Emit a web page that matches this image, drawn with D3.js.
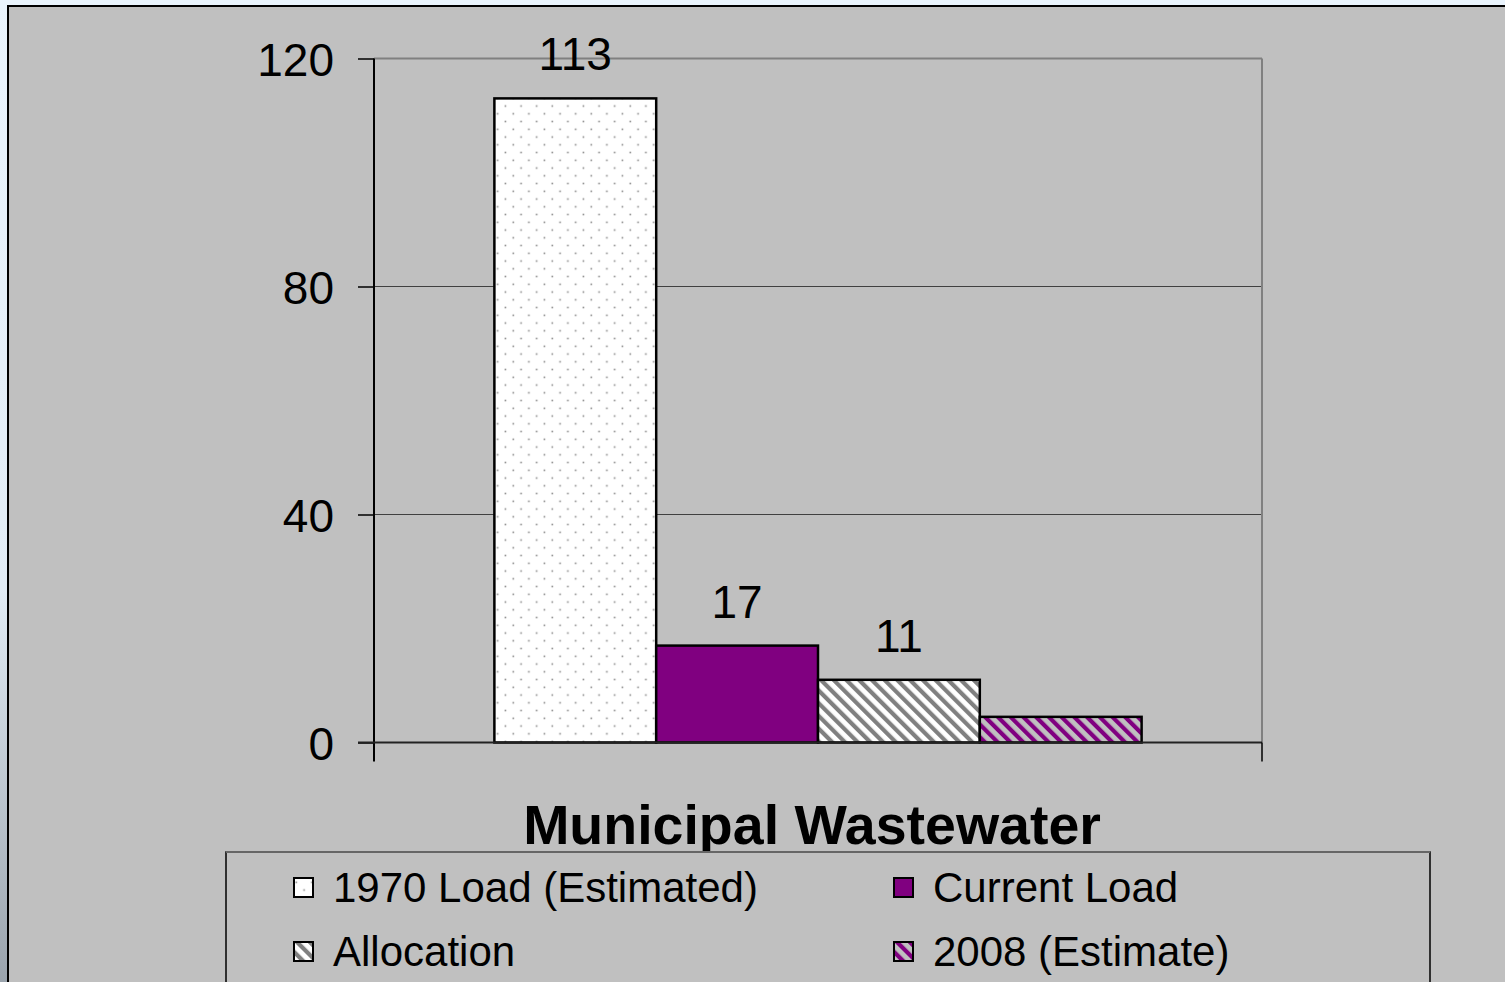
<!DOCTYPE html>
<html>
<head>
<meta charset="utf-8">
<script src="https://cdn.jsdelivr.net/npm/d3@7"></script>
<style>
  body { margin: 0; padding: 0; overflow: hidden; background: #eaf4fd; }
  svg { display: block; }
  text { font-family: "Liberation Sans", Arial, sans-serif; }
</style>
</head>
<body>
<div id="chart"></div>
<script>
// data
const categories = ["Municipal Wastewater"];
const series = ["1970 Load (Estimated)", "Current Load", "Allocation", "2008 (Estimate)"];
const values = [113, 17, 11, 4.5];
const labels = ["113", "17", "11", ""];
const yTicks = [0, 40, 80, 120];

const W = 1505, H = 982;
const plot = {left: 374, right: 1262, top: 58.5, bottom: 742.5};

const svg = d3.select("#chart").append("svg")
  .attr("width", W)
  .attr("height", H);

const defs = svg.append("defs");

// left photo strip
const grad = defs.append("linearGradient").attr("id", "strip")
  .attr("x1", 0).attr("y1", 0).attr("x2", 0).attr("y2", 1);
grad.append("stop").attr("offset", "0").attr("stop-color", "#eaf4fd");
grad.append("stop").attr("offset", "0.6").attr("stop-color", "#e2ecf5");
grad.append("stop").attr("offset", "1").attr("stop-color", "#9aa3ac");
svg.append("rect").attr("x", 0).attr("y", 0).attr("width", 8).attr("height", H)
  .attr("fill", "url(#strip)");

// patterns
const dots = defs.append("pattern").attr("id", "dots")
  .attr("patternUnits", "userSpaceOnUse")
  .attr("width", 15.6).attr("height", 15.5);
dots.append("rect").attr("width", 15.6).attr("height", 15.5).attr("fill", "#ffffff");
dots.append("rect").attr("x", 2.5).attr("y", 4.5).attr("width", 1.6).attr("height", 1.6).attr("fill", "#8a8a8a");
dots.append("rect").attr("x", 10.3).attr("y", 12.25).attr("width", 1.6).attr("height", 1.6).attr("fill", "#8a8a8a");

function stripes(id, bg, fg) {
  const p = defs.append("pattern").attr("id", id)
    .attr("patternUnits", "userSpaceOnUse")
    .attr("width", 9).attr("height", 9)
    .attr("patternTransform", "rotate(-45)");
  p.append("rect").attr("width", 9).attr("height", 9).attr("fill", bg);
  p.append("rect").attr("x", 0).attr("y", 0).attr("width", 4.2).attr("height", 9).attr("fill", fg);
}
stripes("hatchGray", "#ffffff", "#808080");
stripes("hatchPurple", "#c0c0c0", "#800080");

const fills = ["url(#dots)", "#800080", "url(#hatchGray)", "url(#hatchPurple)"];

// chart background
svg.append("rect")
  .attr("x", 8).attr("y", 6)
  .attr("width", W).attr("height", H)
  .attr("fill", "#c0c0c0")
  .attr("stroke", "#000").attr("stroke-width", 2);

const y = d3.scaleLinear().domain([0, 120]).range([plot.bottom, plot.top]);

const x0 = d3.scaleBand().domain(categories)
  .range([plot.left, plot.right])
  .paddingOuter(0.186).paddingInner(0);

const x1 = d3.scaleBand().domain(series)
  .range([0, x0.bandwidth()]);

// gridlines
svg.append("g")
  .selectAll("line")
  .data(yTicks.filter(d => d > 0))
  .enter().append("line")
  .attr("x1", plot.left).attr("x2", plot.right)
  .attr("y1", d => y(d)).attr("y2", d => y(d))
  .attr("stroke", d => d === 120 ? "#808080" : "#404040")
  .attr("stroke-width", d => d === 120 ? 2 : 1.2);

// right border
svg.append("line")
  .attr("x1", plot.right).attr("x2", plot.right)
  .attr("y1", plot.top).attr("y2", plot.bottom)
  .attr("stroke", "#808080").attr("stroke-width", 2);

// y axis
const yAxis = d3.axisLeft(y).tickValues(yTicks).tickSize(16).tickPadding(24);
const gy = svg.append("g")
  .attr("transform", "translate(" + plot.left + ",0)")
  .call(yAxis);
gy.select(".domain").remove();
gy.selectAll(".tick line").attr("stroke", "#000").attr("stroke-width", 1.5);
gy.selectAll(".tick text")
  .attr("font-size", 46)
  .attr("fill", "#000")
  .attr("dy", "0.36em")
  .style("font-family", "'Liberation Sans', Arial, sans-serif");
gy.append("line")
  .attr("x1", 0).attr("x2", 0)
  .attr("y1", plot.top).attr("y2", plot.bottom + 19)
  .attr("stroke", "#000").attr("stroke-width", 2);

// bars
const g = svg.append("g")
  .selectAll("g")
  .data(categories)
  .enter().append("g")
  .attr("transform", d => "translate(" + x0(d) + ",0)");

g.selectAll("rect")
  .data(series.map((s, i) => ({s: s, v: values[i], i: i})))
  .enter().append("rect")
  .attr("x", d => x1(d.s))
  .attr("y", d => y(d.v))
  .attr("width", x1.bandwidth())
  .attr("height", d => y(0) - y(d.v))
  .attr("fill", d => fills[d.i])
  .attr("stroke", "#000")
  .attr("stroke-width", 2.5);

g.selectAll("text.lab")
  .data(series.map((s, i) => ({s: s, v: values[i], i: i})))
  .enter().append("text")
  .attr("class", "lab")
  .attr("x", d => x1(d.s) + x1.bandwidth() / 2)
  .attr("y", d => y(d.v) - 28)
  .attr("text-anchor", "middle")
  .attr("font-size", 46)
  .text(d => labels[d.i]);

// x axis
svg.append("line")
  .attr("x1", plot.left - 16).attr("x2", plot.right)
  .attr("y1", plot.bottom).attr("y2", plot.bottom)
  .attr("stroke", "#222").attr("stroke-width", 2);
svg.append("line")
  .attr("x1", plot.right).attr("x2", plot.right)
  .attr("y1", plot.bottom).attr("y2", plot.bottom + 19)
  .attr("stroke", "#000").attr("stroke-width", 1.5);

// category title
svg.append("text")
  .attr("x", x0(categories[0]) + x0.bandwidth() / 2 - 6)
  .attr("y", 844)
  .attr("text-anchor", "middle")
  .attr("font-size", 55.5)
  .attr("font-weight", "bold")
  .text(categories[0]);

// legend
const legend = svg.append("g");
legend.append("rect")
  .attr("x", 226).attr("y", 852)
  .attr("width", 1430 - 226).attr("height", 200)
  .attr("fill", "#c0c0c0")
  .attr("stroke", "#000").attr("stroke-width", 1.5);
legend.append("line")
  .attr("x1", 226).attr("x2", 1430).attr("y1", 852).attr("y2", 852)
  .attr("stroke", "#666").attr("stroke-width", 2);

const legX = [293, 893], legY = [877, 941];
const items = legend.selectAll("g.item")
  .data(series)
  .enter().append("g")
  .attr("class", "item")
  .attr("transform", (d, i) => "translate(" + legX[i % 2] + "," + legY[Math.floor(i / 2)] + ")");
items.append("rect")
  .attr("x", 1).attr("y", 1)
  .attr("width", 19).attr("height", 19)
  .attr("fill", (d, i) => fills[i])
  .attr("stroke", "#000").attr("stroke-width", 2);
items.append("text")
  .attr("x", 40).attr("y", 25)
  .attr("font-size", 42)
  .text(d => d);
</script>
</body>
</html>
